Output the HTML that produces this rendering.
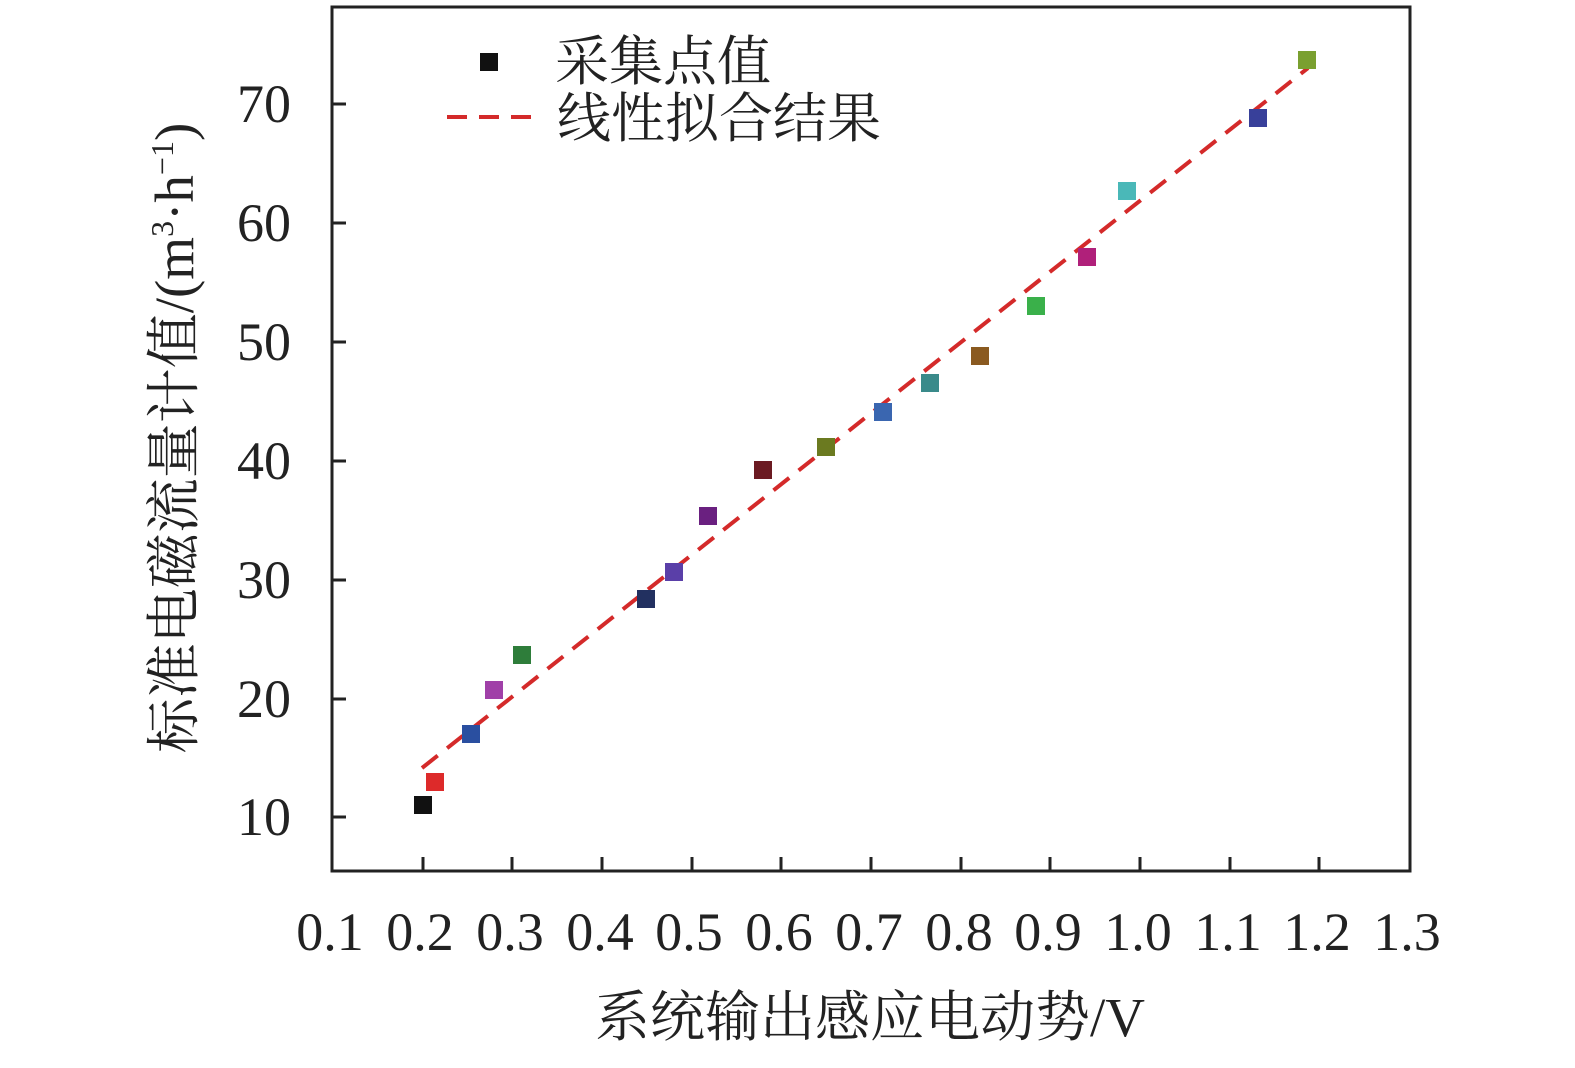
<!DOCTYPE html>
<html><head><meta charset="utf-8"><style>
body{margin:0;background:#fff}
text{font-family:"Liberation Serif","Noto Serif CJK SC",serif;fill:#222}
</style></head><body>
<svg width="1575" height="1063" viewBox="0 0 1575 1063" xmlns="http://www.w3.org/2000/svg">
<rect x="332" y="7" width="1078" height="864" fill="none" stroke="#222" stroke-width="3"/>
<g stroke="#222" stroke-width="3">
<line x1="423" y1="871" x2="423" y2="857"/><line x1="512" y1="871" x2="512" y2="857"/>
<line x1="602" y1="871" x2="602" y2="857"/><line x1="692" y1="871" x2="692" y2="857"/>
<line x1="781" y1="871" x2="781" y2="857"/><line x1="871" y1="871" x2="871" y2="857"/>
<line x1="961" y1="871" x2="961" y2="857"/><line x1="1050" y1="871" x2="1050" y2="857"/>
<line x1="1140" y1="871" x2="1140" y2="857"/><line x1="1230" y1="871" x2="1230" y2="857"/>
<line x1="1319" y1="871" x2="1319" y2="857"/>
<line x1="332" y1="104" x2="346" y2="104"/><line x1="332" y1="223" x2="346" y2="223"/>
<line x1="332" y1="342" x2="346" y2="342"/><line x1="332" y1="461" x2="346" y2="461"/>
<line x1="332" y1="580" x2="346" y2="580"/><line x1="332" y1="699" x2="346" y2="699"/>
<line x1="332" y1="817" x2="346" y2="817"/>
</g>
<g font-size="54" text-anchor="middle">
<text x="330" y="950">0.1</text><text x="420" y="950">0.2</text><text x="510" y="950">0.3</text>
<text x="600" y="950">0.4</text><text x="689" y="950">0.5</text><text x="779" y="950">0.6</text>
<text x="869" y="950">0.7</text><text x="959" y="950">0.8</text><text x="1048" y="950">0.9</text>
<text x="1138" y="950">1.0</text><text x="1228" y="950">1.1</text><text x="1317" y="950">1.2</text>
<text x="1407" y="950">1.3</text>
</g>
<g font-size="54" text-anchor="end">
<text x="291" y="122">70</text><text x="291" y="241">60</text><text x="291" y="360">50</text>
<text x="291" y="479">40</text><text x="291" y="598">30</text><text x="291" y="717">20</text>
<text x="291" y="835">10</text>
</g>
<text x="870" y="1036" font-size="55" text-anchor="middle">系统输出感应电动势/V</text>
<text transform="translate(193,438) rotate(-90)" font-size="55" text-anchor="middle">标准电磁流量计值/(m<tspan font-size="32" dy="-20">3</tspan><tspan dy="20">·h</tspan><tspan font-size="32" dy="-20">−1</tspan><tspan dy="20">)</tspan></text>
<line x1="422" y1="768" x2="1308" y2="68" stroke="#d42a2a" stroke-width="4" stroke-dasharray="20 12"/>
<g>
<rect x="414" y="796" width="18" height="18" fill="#111"/>
<rect x="426" y="773" width="18" height="18" fill="#dd2a2a"/>
<rect x="462" y="725" width="18" height="18" fill="#2a4fa0"/>
<rect x="485" y="681" width="18" height="18" fill="#a040a8"/>
<rect x="513" y="646" width="18" height="18" fill="#2e7d3a"/>
<rect x="637" y="590" width="18" height="18" fill="#223060"/>
<rect x="665" y="563" width="18" height="18" fill="#5a3fa8"/>
<rect x="699" y="507" width="18" height="18" fill="#6a2080"/>
<rect x="754" y="461" width="18" height="18" fill="#6b1a22"/>
<rect x="817" y="438" width="18" height="18" fill="#6b7a20"/>
<rect x="874" y="403" width="18" height="18" fill="#3a66b0"/>
<rect x="921" y="374" width="18" height="18" fill="#3a8a8a"/>
<rect x="971" y="347" width="18" height="18" fill="#8a5a20"/>
<rect x="1027" y="297" width="18" height="18" fill="#3ab04a"/>
<rect x="1078" y="248" width="18" height="18" fill="#b0207a"/>
<rect x="1118" y="182" width="18" height="18" fill="#4ab8b8"/>
<rect x="1249" y="109" width="18" height="18" fill="#38409a"/>
<rect x="1298" y="51" width="18" height="18" fill="#7aa030"/>
</g>
<rect x="480" y="53" width="18" height="18" fill="#111"/>
<text x="555" y="80" font-size="54">采集点值</text>
<line x1="447" y1="117" x2="537" y2="117" stroke="#d42a2a" stroke-width="4" stroke-dasharray="20 12"/>
<text x="557" y="137" font-size="54">线性拟合结果</text>
</svg>
</body></html>
